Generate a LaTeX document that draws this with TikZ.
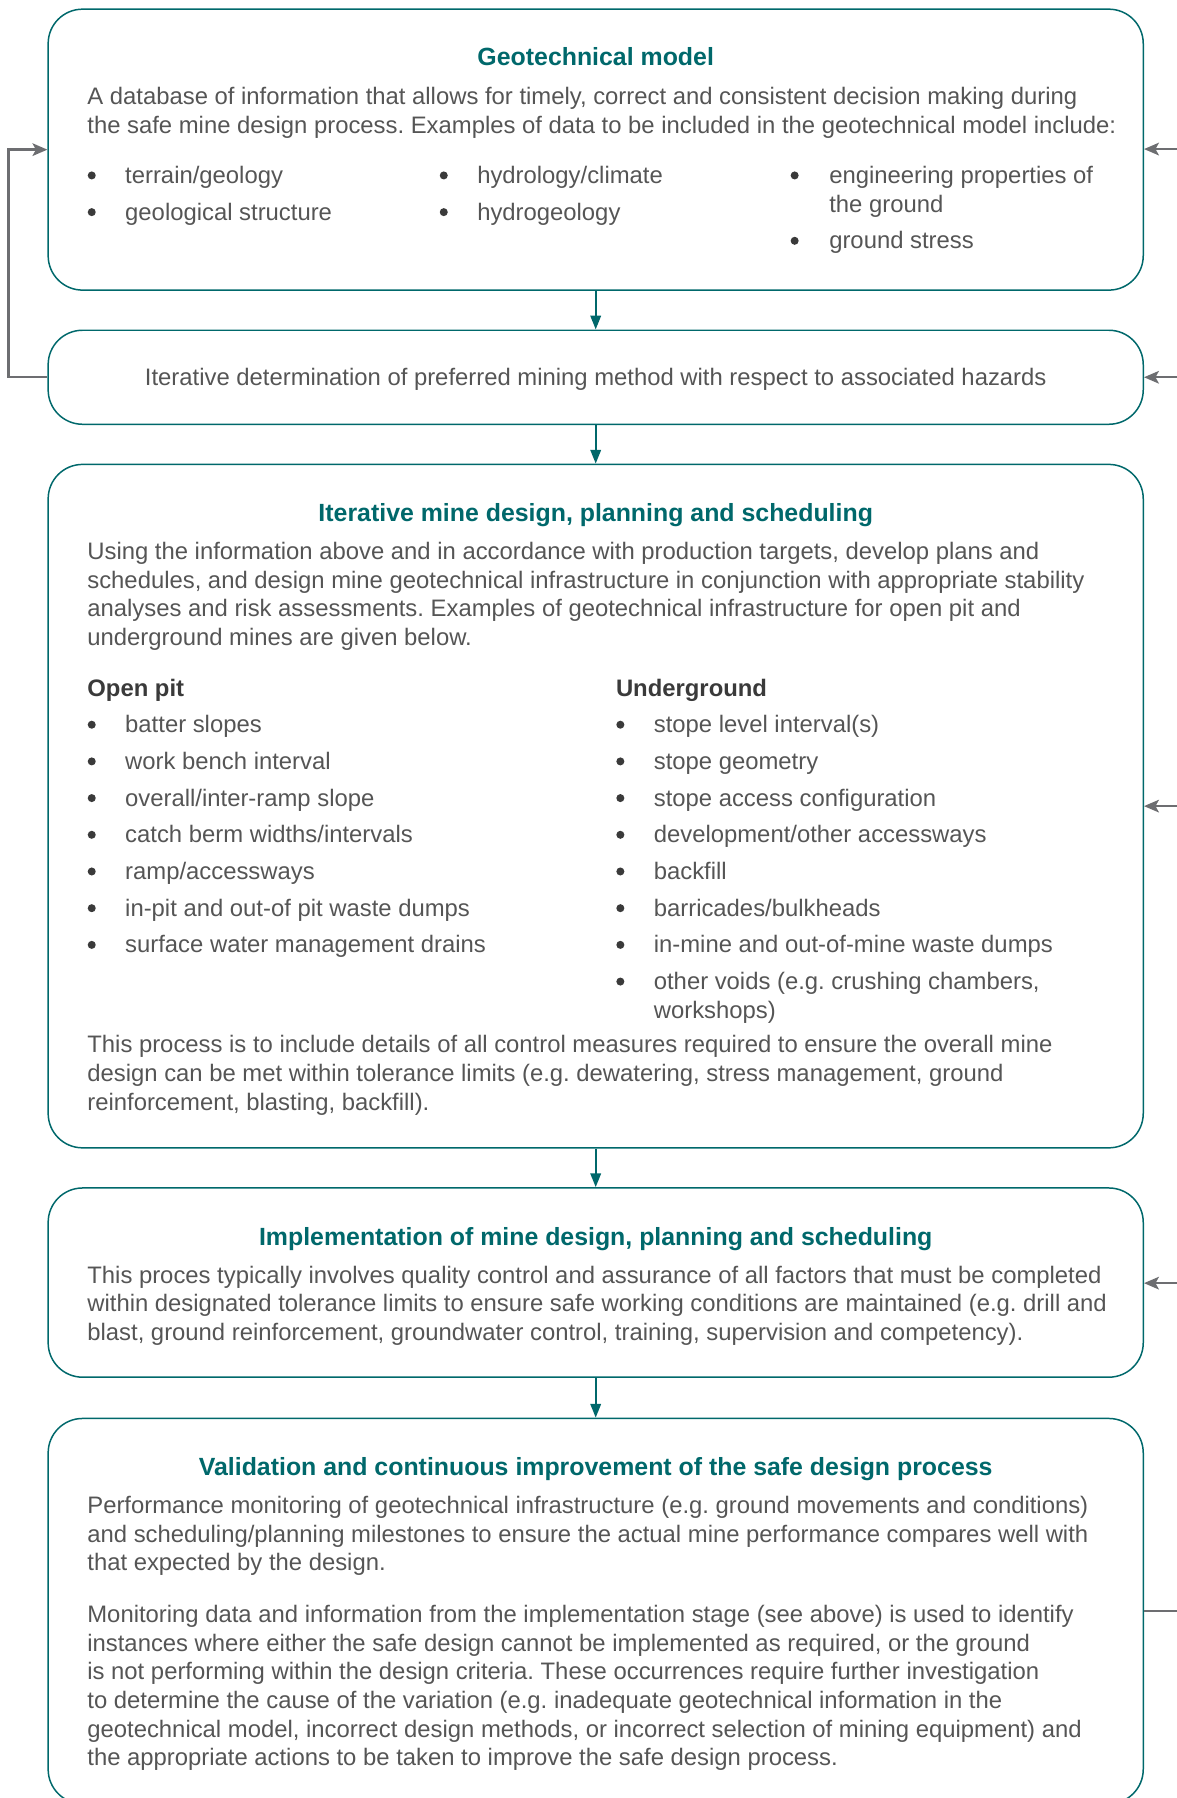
\documentclass[tikz,border=0pt]{standalone}
\usepackage{fontspec}
\setmainfont{Liberation Sans}
\usetikzlibrary{arrows.meta,fit}
\definecolor{tealline}{HTML}{00686B}
\definecolor{bodygray}{HTML}{555555}
\definecolor{headgray}{HTML}{3A3A3A}
\definecolor{backgray}{HTML}{6D6E71}
\frenchspacing
\tikzset{
  box/.style={draw=tealline,line width=1.3pt,rounded corners=30pt,inner sep=0pt},
  flow/.style={draw=tealline,line width=2pt,-{Triangle[length=12pt,width=9pt]}},
  back/.style={draw=backgray,line width=2pt,-{Stealth[length=13pt,width=11pt,inset=3pt]}},
  ttl/.style={text=tealline,font=\fontsize{21.7}{26}\selectfont\bfseries,anchor=base,inner sep=0pt},
  body/.style={text=bodygray,font=\fontsize{20.8}{25}\selectfont,align=left,anchor=base west,inner sep=0pt},
  sub/.style={text=headgray,font=\fontsize{20.8}{25}\selectfont\bfseries,anchor=base west,inner sep=0pt},
}
\begin{document}
\begin{tikzpicture}[x=1pt,y=-1pt]
\useasboundingbox (0,0) rectangle (1026,1568);

\node[box,fit={(42,8) (997,253)}] (geo) {};
\node[box,fit={(42,288) (997,370)}] (meth) {};
\node[box,fit={(42,405) (997,1001)}] (plan) {};
\node[box,fit={(42,1036) (997,1201)}] (impl) {};
\node[box,fit={(42,1237) (997,1573)}] (valid) {};

\draw[flow] (geo) -- (meth);
\draw[flow] (meth) -- (plan);
\draw[flow] (plan) -- (impl);
\draw[flow] (impl) -- (valid);

\draw[back] (meth.west) -- ++(-34,0) |- (geo.west);
\coordinate (r1) at (1026,130);
\coordinate (r2) at (1026,329);
\coordinate (r3) at (1026,703);
\coordinate (r4) at (1026,1119);
\coordinate (r5) at (1026,1405);
\draw[back] (r1) -- (r1 -| geo.east);
\draw[back] (r2) -- (r2 -| meth.east);
\draw[back] (r3) -- (r3 -| plan.east);
\draw[back] (r4) -- (r4 -| impl.east);
\draw[backgray,line width=2pt] (r5 -| valid.east) -- (r5);

% multi-line nodes sit on the baseline of their last line
\node[ttl] (geotitle) at (519.5,57) {Geotechnical model};
\node[body] (geotext) at (76,116) {A database of information that allows for timely, correct and consistent decision making during\\the safe mine design process. Examples of data to be included in the geotechnical model include:};
\foreach \x in {80,387} \foreach \y in {153,185} \fill[headgray] (\x,\y) circle (3.5);
\foreach \y in {153,210} \fill[headgray] (693,\y) circle (3.5);
\node[body] (geoa) at (109,192) {terrain/geology\\[7pt]geological structure};
\node[body] (geob) at (416,192) {hydrology/climate\\[7pt]hydrogeology};
\node[body] (geoc) at (723,217) {engineering properties of\\the ground\\[7pt]ground stress};

\node[body,anchor=base] (methtext) at (519.5,336) {Iterative determination of preferred mining method with respect to associated hazards};

\node[ttl] (plantitle) at (519.5,455) {Iterative mine design, planning and scheduling};
\node[body] (plantext) at (76,563) {Using the information above and in accordance with production targets, develop plans and\\schedules, and design mine geotechnical infrastructure in conjunction with appropriate stability\\analyses and risk assessments. Examples of geotechnical infrastructure for open pit and\\underground mines are given below.};
\node[sub] (pithead) at (76,607) {Open pit};
\node[sub] (ughead) at (537,607) {Underground};
\foreach \y in {632,664,...,824} \fill[headgray] (80,\y) circle (3.5);
\foreach \y in {632,664,...,856} \fill[headgray] (541,\y) circle (3.5);
\node[body] (pitlist) at (109,831) {batter slopes\\[7pt]work bench interval\\[7pt]overall/inter-ramp slope\\[7pt]catch berm widths/intervals\\[7pt]ramp/accessways\\[7pt]in-pit and out-of pit waste dumps\\[7pt]surface water management drains};
\node[body] (uglist) at (570,888) {stope level interval(s)\\[7pt]stope geometry\\[7pt]stope access configuration\\[7pt]development/other accessways\\[7pt]backfill\\[7pt]barricades/bulkheads\\[7pt]in-mine and out-of-mine waste dumps\\[7pt]other voids (e.g. crushing chambers,\\workshops)};
\node[body] (planend) at (76,968) {This process is to include details of all control measures required to ensure the overall mine\\design can be met within tolerance limits (e.g. dewatering, stress management, ground\\reinforcement, blasting, backfill).};

\node[ttl] (impltitle) at (519.5,1086) {Implementation of mine design, planning and scheduling};
\node[body] (impltext) at (76,1169) {This proces typically involves quality control and assurance of all factors that must be completed\\within designated tolerance limits to ensure safe working conditions are maintained (e.g. drill and\\blast, ground reinforcement, groundwater control, training, supervision and competency).};

\node[ttl] (validtitle) at (519.5,1287) {Validation and continuous improvement of the safe design process};
\node[body] (validtext) at (76,1540) {Performance monitoring of geotechnical infrastructure (e.g. ground movements and conditions)\\and scheduling/planning milestones to ensure the actual mine performance compares well with\\that expected by the design.\\[20pt]Monitoring data and information from the implementation stage (see above) is used to identify\\instances where either the safe design cannot be implemented as required, or the ground\\is not performing within the design criteria. These occurrences require further investigation\\to determine the cause of the variation (e.g. inadequate geotechnical information in the\\geotechnical model, incorrect design methods, or incorrect selection of mining equipment) and\\the appropriate actions to be taken to improve the safe design process.};
\end{tikzpicture}
\end{document}
